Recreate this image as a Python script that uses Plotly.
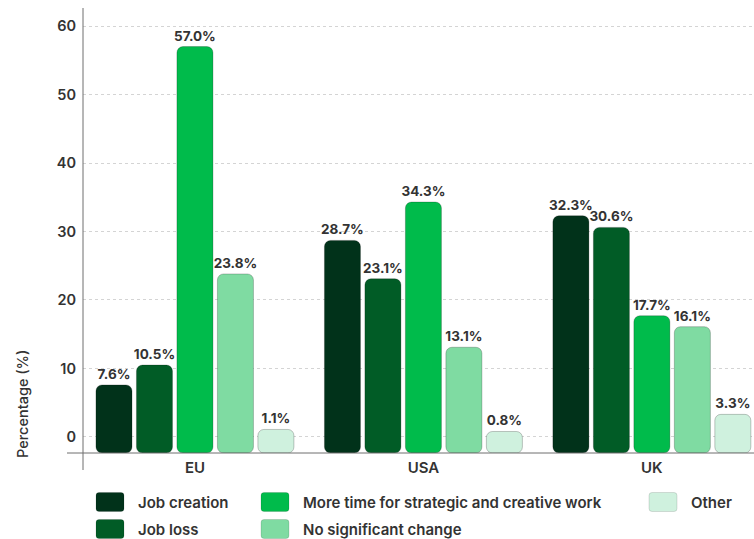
import plotly.graph_objects as go

# Survey results: perceived impact of AI on work, by region
regions = ["EU", "USA", "UK"]
series_names = [
    "Job creation",
    "Job loss",
    "More time for strategic and creative work",
    "No significant change",
    "Other",
]
job_creation = [7.6, 28.7, 32.3]
job_loss = [10.5, 23.1, 30.6]
more_time = [57.0, 34.3, 17.7]
no_change = [23.8, 13.1, 16.1]
other = [1.1, 0.8, 3.3]
series_values = [job_creation, job_loss, more_time, no_change, other]
colors = ["#01321a", "#015c26", "#00bb4b", "#7fdba2", "#cff1de"]

y_ticks = [0, 10, 20, 30, 40, 50, 60]
Y_MIN, Y_MAX = -2.34, 62.63

W, H = 754, 539
M_L, M_R, M_T, M_B = 83, 0, 8, 86
TEXT = "#333333"
FONT = "Inter"


def px_x(px):
    return (px - M_L) / (W - M_L - M_R)


def px_y(py):
    return (H - M_B - py) / (H - M_B - M_T)


fig = go.Figure()
for name, vals, col in zip(series_names, series_values, colors):
    # bars rise from the bottom of the axis to the value
    fig.add_trace(go.Bar(
        x=regions,
        y=[v - Y_MIN for v in vals],
        base=Y_MIN,
        name=name,
        marker=dict(color=col, line=dict(color="rgba(0,0,0,0.22)", width=1)),
        text=[f"{v:.1f}%" for v in vals],
        textposition="outside",
        constraintext="none",
        textfont=dict(family=FONT, size=13.5, color=TEXT, weight=700),
        cliponaxis=False,
        customdata=vals,
        hovertemplate="%{x}: %{customdata:.1f}%<extra>%{fullData.name}</extra>",
        showlegend=False,
    ))

shapes = []
annotations = []

# axis lines: y axis runs past the baseline, x axis starts left of the y axis
shapes.append(dict(type="line", xref="paper", yref="paper",
                   x0=0, x1=0, y0=px_y(470), y1=1,
                   line=dict(color="#6f6f6f", width=1)))
shapes.append(dict(type="line", xref="paper", yref="paper",
                   x0=px_x(67), x1=1, y0=0, y1=0,
                   line=dict(color="#6f6f6f", width=1)))


def rounded_rect(x0, y0, x1, y1, r):
    # pixel coordinates converted to paper space
    ax0, ax1 = px_x(x0), px_x(x1)
    ay0, ay1 = px_y(y1), px_y(y0)
    rx = r / (W - M_L - M_R)
    ry = r / (H - M_B - M_T)
    return (f"M{ax0 + rx},{ay1} L{ax1 - rx},{ay1} Q{ax1},{ay1} {ax1},{ay1 - ry} "
            f"L{ax1},{ay0 + ry} Q{ax1},{ay0} {ax1 - rx},{ay0} "
            f"L{ax0 + rx},{ay0} Q{ax0},{ay0} {ax0},{ay0 + ry} "
            f"L{ax0},{ay1 - ry} Q{ax0},{ay1} {ax0 + rx},{ay1} Z")


# legend: columns filled top to bottom, two rows
legend_cols = [96, 261, 649]
legend_rows = [502, 529]
sw_w, sw_h = 28, 19
for i, (name, col) in enumerate(zip(series_names, colors)):
    cx = legend_cols[i // 2]
    cy = legend_rows[i % 2]
    shapes.append(dict(type="path", xref="paper", yref="paper",
                       path=rounded_rect(cx, cy - sw_h / 2, cx + sw_w, cy + sw_h / 2, 3),
                       fillcolor=col, line=dict(color="rgba(0,0,0,0.12)", width=1)))
    annotations.append(dict(xref="paper", yref="paper", x=px_x(cx + 40), y=px_y(cy),
                            text=name, showarrow=False, xanchor="left", yanchor="middle",
                            font=dict(family=FONT, size=15, color=TEXT, weight=600)))

annotations.append(dict(xref="paper", yref="paper", x=px_x(23), y=px_y(404),
                        text="Percentage (%)", showarrow=False, textangle=-90,
                        xanchor="center", yanchor="middle",
                        font=dict(family=FONT, size=14.5, color=TEXT, weight=500)))

fig.update_layout(
    width=W, height=H,
    margin=dict(l=M_L, r=M_R, t=M_T, b=M_B, pad=0),
    paper_bgcolor="white", plot_bgcolor="white",
    barmode="group", bargap=0.114, bargroupgap=0.11, barcornerradius=6,
    showlegend=False,
    shapes=shapes, annotations=annotations,
    font=dict(family=FONT, color=TEXT),
    xaxis=dict(range=[-0.49, 2.447], showline=False, showgrid=False, zeroline=False,
               ticks="", ticklabelstandoff=4,
               tickfont=dict(family=FONT, size=15, color=TEXT, weight=600)),
    yaxis=dict(range=[Y_MIN, Y_MAX], tickvals=y_ticks, showline=False, zeroline=False,
               showgrid=True, gridcolor="#d4d4d4", griddash="dot", gridwidth=1,
               ticks="", ticklabelstandoff=6,
               tickfont=dict(family=FONT, size=14.5, color=TEXT, weight=600)),
)

fig.write_html("out.html")
